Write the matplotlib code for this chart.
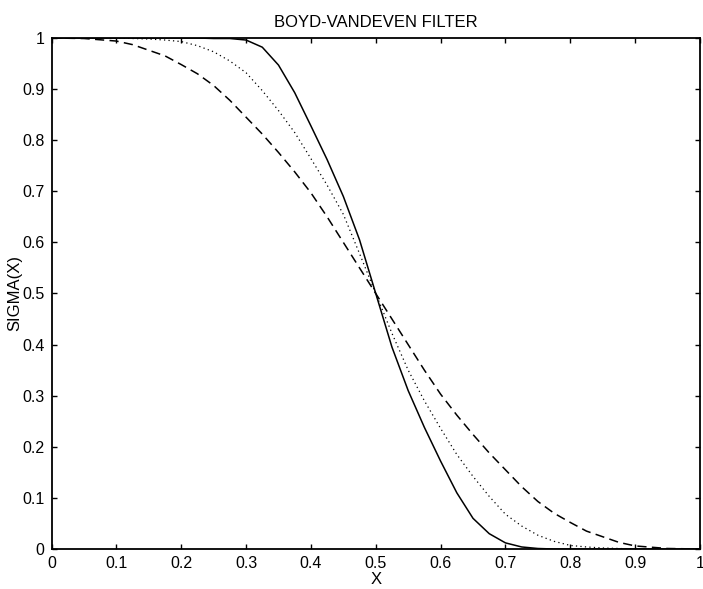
import matplotlib
matplotlib.use("Agg")
import matplotlib.pyplot as plt

plt.rcParams['font.family'] = ['Liberation Sans', 'DejaVu Sans']

# values
x = [0.0, 0.05, 0.1, 0.125, 0.15, 0.175, 0.2, 0.225, 0.25, 0.275, 0.3, 0.325,
     0.35, 0.375, 0.4, 0.425, 0.45, 0.475, 0.5, 0.525, 0.55, 0.575, 0.6, 0.625,
     0.65, 0.675, 0.7, 0.725, 0.75, 0.775, 0.8, 0.825, 0.85, 0.875, 0.9, 0.95, 1.0]

sigma_solid = [1.0, 1.0, 1.0, 1.0, 1.0, 1.0, 1.0, 1.0, 0.999, 0.999, 0.996, 0.982,
               0.947, 0.893, 0.828, 0.762, 0.69, 0.605, 0.5, 0.395, 0.31, 0.238, 0.172, 0.11,
               0.06, 0.03, 0.012, 0.004, 0.001, 0.0, 0.0, 0.0, 0.0, 0.0, 0.0, 0.0, 0.0]

sigma_dotted = [1.0, 1.0, 1.0, 0.999, 0.998, 0.996, 0.993, 0.985, 0.973, 0.955, 0.932, 0.897,
                0.858, 0.815, 0.764, 0.712, 0.655, 0.578, 0.5, 0.422, 0.35, 0.29, 0.236, 0.185,
                0.142, 0.103, 0.068, 0.045, 0.027, 0.015, 0.007, 0.004, 0.002, 0.001, 0.0, 0.0, 0.0]

sigma_dashed = [1.0, 0.999, 0.994, 0.987, 0.976, 0.965, 0.948, 0.93, 0.907, 0.878, 0.845, 0.812,
                0.776, 0.738, 0.697, 0.65, 0.6, 0.55, 0.5, 0.45, 0.4, 0.35, 0.303, 0.262,
                0.224, 0.188, 0.155, 0.122, 0.093, 0.07, 0.052, 0.035, 0.024, 0.013, 0.006, 0.001, 0.0]

ticks = [0, 0.1, 0.2, 0.3, 0.4, 0.5, 0.6, 0.7, 0.8, 0.9, 1]
tick_labels = ['0', '0.1', '0.2', '0.3', '0.4', '0.5', '0.6', '0.7', '0.8', '0.9', '1']

fig = plt.figure(figsize=(7.03, 5.89), dpi=100)
ax = fig.add_axes([0.0733, 0.0679, 0.9224, 0.8676])

ax.plot(x, sigma_solid, color='black', lw=1.1, ls='-')
ax.plot(x, sigma_dotted, color='black', lw=0.9, ls=(0, (1, 2.6)))
ax.plot(x, sigma_dashed, color='black', lw=1.1, ls=(0, (6, 3.5)))

ax.set_xlim(0, 1)
ax.set_ylim(0, 1)
ax.set_xticks(ticks)
ax.set_xticklabels(tick_labels)
ax.set_yticks(ticks)
ax.set_yticklabels(tick_labels)
ax.tick_params(direction='in', length=3.8, width=1.0, top=True, right=True,
               labelsize=11.5, pad=5)
for s in ax.spines.values():
    s.set_linewidth(1.3)

ax.set_title('BOYD-VANDEVEN FILTER', fontsize=12, pad=8)
ax.set_xlabel('X', fontsize=12, labelpad=1)
ax.set_ylabel('SIGMA(X)', fontsize=12, labelpad=0)

fig.savefig('out.png', dpi=100)
